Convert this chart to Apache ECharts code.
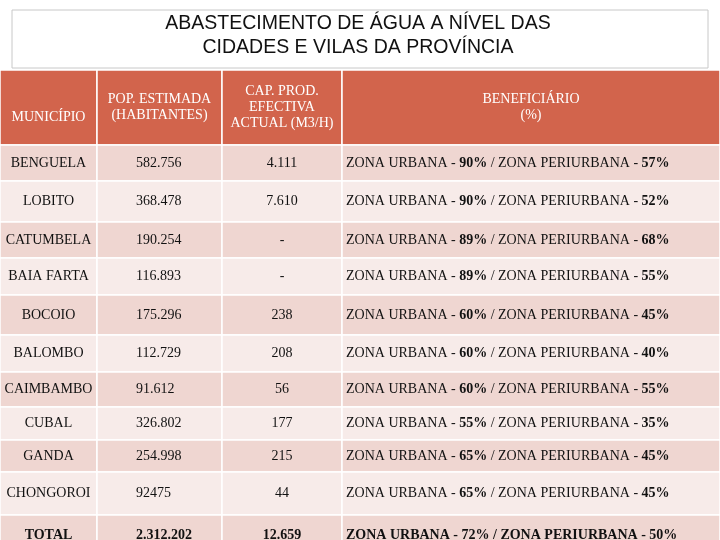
<!DOCTYPE html>
<html><head><meta charset="utf-8">
<script src="https://cdn.jsdelivr.net/npm/echarts@6/dist/echarts.min.js"></script>
<style>html,body{margin:0;padding:0;background:#fff}#c{width:720px;height:540px}</style>
</head><body><div id="c"></div>
<script>
const titleLines = ["ABASTECIMENTO DE ÁGUA A NÍVEL DAS", "CIDADES E VILAS DA PROVÍNCIA"];
const headers = ["MUNICÍPIO", "POP. ESTIMADA\n(HABITANTES)", "CAP. PROD.\nEFECTIVA\nACTUAL (M3/H)", "BENEFICIÁRIO\n(%)"];
const municipios = ["BENGUELA","LOBITO","CATUMBELA","BAIA FARTA","BOCOIO","BALOMBO","CAIMBAMBO","CUBAL","GANDA","CHONGOROI","TOTAL"];
const populacao = ["582.756","368.478","190.254","116.893","175.296","112.729","91.612","326.802","254.998","92475","2.312.202"];
const capacidade = ["4.111","7.610","-","-","238","208","56","177","215","44","12.659"];
const urbana = ["90%","90%","89%","89%","60%","60%","60%","55%","65%","65%","72%"];
const periurbana = ["57%","52%","68%","55%","45%","40%","55%","35%","45%","45%","50%"];

// layout (pixel positions)
const colEdges = [0, 97, 222, 342, 720];
const rowEdges = [145, 181, 222, 258, 295, 335, 372, 407, 440, 472, 515, 560];
const headTop = 70;

const cells = [];
for (let r = 0; r < municipios.length; r++) {
  const total = r === municipios.length - 1;
  const benef = total ? '{tb|ZONA URBANA - ' + urbana[r] + ' / ZONA PERIURBANA - ' + periurbana[r] + '}'
    : 'ZONA URBANA - {b|' + urbana[r] + '} / ZONA PERIURBANA - {b|' + periurbana[r] + '}';
  cells.push([r, 0, municipios[r], 'center']);
  cells.push([r, 1, populacao[r], 'left']);
  cells.push([r, 2, capacidade[r], 'center']);
  cells.push([r, 3, benef, 'left']);
}
const headCells = headers.map((h, i) => [-1, i, h, 'center']);

const font = '"Liberation Serif", "DejaVu Serif", serif';
const chart = echarts.init(document.getElementById('c'));
function render(params, api) {
  const r = api.value(0), c = api.value(1);
  const x0 = colEdges[c], x1 = colEdges[c + 1];
  const y0 = r < 0 ? headTop : rowEdges[r], y1 = r < 0 ? rowEdges[0] : rowEdges[r + 1];
  const p0 = api.coord([x0, y0]), p1 = api.coord([x1, y1]);
  const fill = r < 0 ? '#D2644C' : (r % 2 === 0 ? '#EFD6D1' : '#F7EBE9');
  const txt = api.value(2), al = api.value(3);
  let tx = (p0[0] + p1[0]) / 2;
  if (al === 'left') tx = c === 1 ? p0[0] + 39 : p0[0] + 4;
  const total = r === municipios.length - 1;
  let ty = total ? p0[1] + 20 : (p0[1] + p1[1]) / 2;
  if (r < 0 && c === 0) ty = p0[1] + 47;
  return {
    type: 'group',
    children: [
      {type: 'rect', shape: {x: p0[0], y: p0[1], width: p1[0] - p0[0], height: p1[1] - p0[1]},
       style: {fill: fill, stroke: '#fff', lineWidth: 1.5}},
      {type: 'text', x: tx, y: ty,
       style: {text: txt, align: al, verticalAlign: 'middle',
         fill: r < 0 ? '#fff' : '#111', font: (total ? 'bold ' : '') + '14px ' + font,
         lineHeight: 16,
         rich: {b: {fontWeight: 'bold', fontFamily: font, fontSize: 14, fill: '#111'},
                tb: {fontWeight: 'bold', fontFamily: font, fontSize: 14, fill: '#111'}}}}
    ]
  };
}
chart.setOption({
  animation: false,
  grid: {left: 0, right: 0, top: 0, bottom: 0},
  xAxis: {type: 'value', min: 0, max: 720, show: false},
  yAxis: {type: 'value', min: 0, max: 540, inverse: true, show: false},
  graphic: [
    {type: 'rect', shape: {x: 12, y: 10, width: 696, height: 58}, style: {fill: '#fff', stroke: '#c8c8c8', lineWidth: 1}},
    {type: 'text', x: 358, y: 24, style: {text: titleLines[0], align: 'center', verticalAlign: 'middle', font: '19.5px "Liberation Sans", Arial, sans-serif', fill: '#111'}},
    {type: 'text', x: 358, y: 48, style: {text: titleLines[1], align: 'center', verticalAlign: 'middle', font: '19.5px "Liberation Sans", Arial, sans-serif', fill: '#111'}}
  ],
  series: [{type: 'custom', renderItem: render, clip: true,
    encode: {x: 1, y: 0}, data: headCells.concat(cells)}]
});
</script></body></html>
